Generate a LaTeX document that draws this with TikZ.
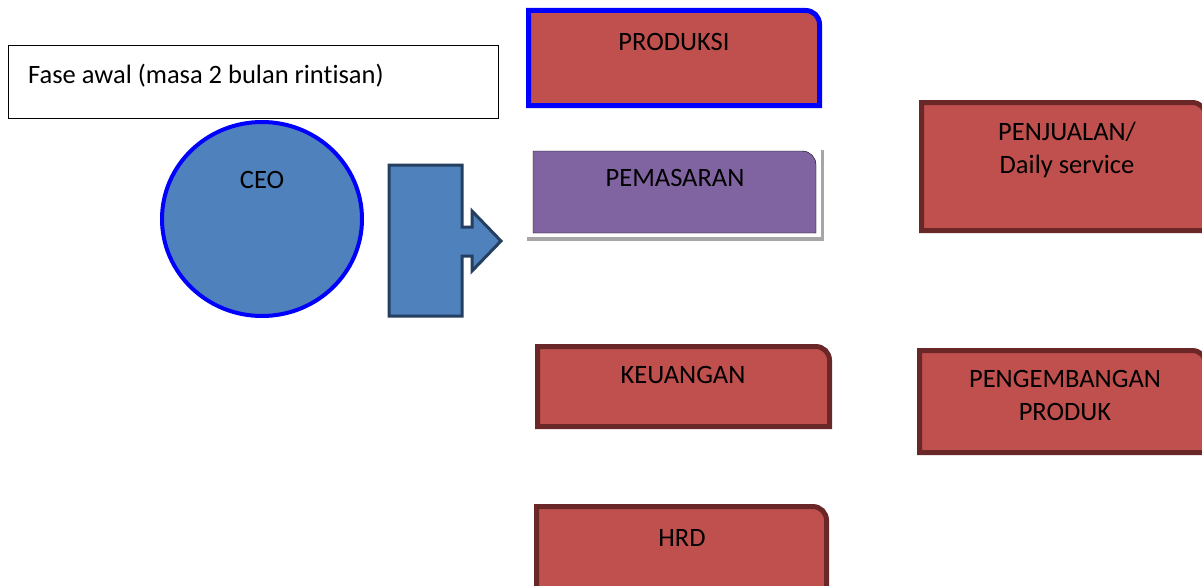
\documentclass[tikz,border=0pt]{standalone}
\usepackage{fontspec}
\setmainfont[Ligatures=NoCommon]{Carlito}
\definecolor{boxred}{HTML}{C0504D}
\definecolor{boxdark}{HTML}{6A2727}
\definecolor{boxpurple}{HTML}{8064A2}
\definecolor{ceoblue}{HTML}{4F81BD}
\definecolor{arrowdark}{HTML}{243F60}
\definecolor{shadowgray}{HTML}{A6A6A6}
\newcommand{\cornerbox}[5]{%
  \draw[#1] (#2,#5) -- (#2,#3) -- ({#4-14},#3) .. controls ({#4-6},#3) and (#4,{#3+6}) .. (#4,{#3+14}) -- (#4,#5) -- cycle;}
\tikzset{
  lbl/.style={font=\fontsize{26.5}{33}\selectfont, inner sep=0pt, align=center, text=black},
  redbox/.style={fill=boxred, draw=boxdark, line width=5pt},
}
\begin{document}
\begin{tikzpicture}[x=1pt,y=-1pt]
\useasboundingbox (0,0) rectangle (1202,586);
% title box
\draw[black, line width=1pt] (8,46) rectangle (498,118);
\node[lbl, anchor=west] (fase) at (28,76) {Fase awal (masa 2 bulan rintisan)};
% CEO
\draw[fill=ceoblue, draw=blue, line width=4pt] (262,219) ellipse [x radius=100, y radius=97];
\node[lbl] (ceo) at (262,180) {CEO};
% block arrow
\draw[fill=ceoblue, draw=arrowdark, line width=3pt, line join=miter]
  (389,165) -- (462,165) -- (462,227) -- (472,227) -- (472,211) -- (501,241) -- (472,271) -- (472,256) -- (462,256) -- (462,316) -- (389,316) -- cycle;
% PRODUKSI
\cornerbox{fill=boxred, draw=blue, line width=5pt}{528.5}{10.5}{819.5}{105.5}
\node[lbl] (produksi) at (674,42) {PRODUKSI};
% PEMASARAN
\fill[shadowgray] (527,150) rectangle (824,241);
\fill[white] (525,146) rectangle (821,237);
\cornerbox{fill=boxpurple}{533}{151}{816}{233}
\node[lbl] (pemasaran) at (675,178) {PEMASARAN};
% PENJUALAN
\cornerbox{redbox}{921.5}{102.5}{1206}{230.5}
\node[lbl] (penjualan) at (1067,150) {PENJUALAN/\\Daily service};
% KEUANGAN
\cornerbox{redbox}{537.5}{346.5}{829.5}{426.5}
\node[lbl] (keuangan) at (683,375) {KEUANGAN};
% PENGEMBANGAN
\cornerbox{redbox}{919.5}{350.5}{1206}{452.5}
\node[lbl] (pengembangan) at (1065,395) {PENGEMBANGAN\\PRODUK};
% HRD
\cornerbox{redbox}{536.5}{506.5}{826.5}{600}
\node[lbl] (hrd) at (682,538) {HRD};
\end{tikzpicture}
\end{document}
